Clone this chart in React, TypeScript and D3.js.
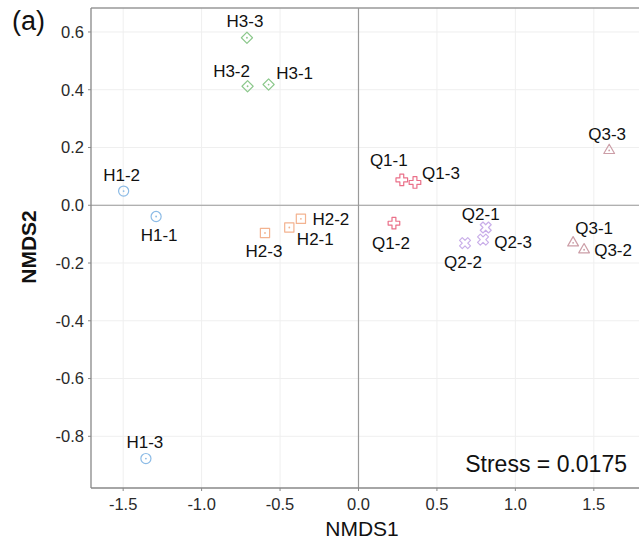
import * as d3 from 'd3';
import React from 'react';

// NMDS scores
const groups = ['H1', 'H2', 'H3', 'Q1', 'Q2', 'Q3'];
const sampleNames = [
  'H1-1', 'H1-2', 'H1-3',
  'H2-1', 'H2-2', 'H2-3',
  'H3-1', 'H3-2', 'H3-3',
  'Q1-1', 'Q1-2', 'Q1-3',
  'Q2-1', 'Q2-2', 'Q2-3',
  'Q3-1', 'Q3-2', 'Q3-3',
];
const nmds1 = [
  -1.290, -1.497, -1.355,
  -0.441, -0.367, -0.596,
  -0.573, -0.707, -0.711,
  0.276, 0.226, 0.360,
  0.811, 0.679, 0.794,
  1.368, 1.438, 1.598,
];
const nmds2 = [
  -0.039, 0.049, -0.877,
  -0.077, -0.047, -0.096,
  0.418, 0.412, 0.580,
  0.088, -0.062, 0.079,
  -0.077, -0.131, -0.119,
  -0.130, -0.154, 0.190,
];
const xTicks = [-1.5, -1.0, -0.5, 0.0, 0.5, 1.0, 1.5];
const yTicks = [-0.8, -0.6, -0.4, -0.2, 0.0, 0.2, 0.4, 0.6];
const stressValue = '0.0175';

// label nudges (px) to mimic the repelled labels
const labelNudge: Record<string, [number, number]> = {
  'H1-1': [3, 18], 'H1-2': [-2, -16], 'H1-3': [-1, -17],
  'H2-1': [26, 11], 'H2-2': [30, 0], 'H2-3': [-1, 18],
  'H3-1': [26, -12], 'H3-2': [-16, -15], 'H3-3': [-2, -17],
  'Q1-1': [-13, -20], 'Q1-2': [-3, 20], 'Q1-3': [26, -10],
  'Q2-1': [-5, -14], 'Q2-2': [-2, 19], 'Q2-3': [30, 2],
  'Q3-1': [21, -15], 'Q3-2': [29, 0], 'Q3-3': [-2, -17],
};

const colors: Record<string, string> = {
  H1: '#8cbbe6',
  H2: '#f3b390',
  H3: '#8cc88c',
  Q1: '#ea7089',
  Q2: '#c9aee9',
  Q3: '#cc9ea7',
};

const W = 639;
const H = 544;
const l = 91;
const t = 8;
const b = 488;
const font = '"Liberation Sans", Arial, sans-serif';

const symbolFor = (g: string) => {
  switch (g) {
    case 'H1': return { path: d3.symbol(d3.symbolCircle, 80)()!, rot: 0, dot: true };
    case 'H2': return { path: d3.symbol(d3.symbolSquare, 85)()!, rot: 0, dot: true };
    case 'H3': return { path: d3.symbol(d3.symbolSquare, 62)()!, rot: 45, dot: true };
    case 'Q1': return { path: d3.symbol(d3.symbolCross, 75)()!, rot: 0, dot: false };
    case 'Q2': return { path: d3.symbol(d3.symbolCross, 75)()!, rot: 45, dot: false };
    default: return { path: d3.symbol(d3.symbolTriangle, 50)()!, rot: 0, dot: true };
  }
};

const App: React.FC = () => {
  const x = d3.scaleLinear().domain([-1.705, 1.788]).range([l, W]);
  const y = d3.scaleLinear().domain([-0.979, 0.683]).range([b, t]);

  const points = sampleNames.map((name, i) => ({
    name,
    group: groups.find(g => name.startsWith(g))!,
    x: nmds1[i],
    y: nmds2[i],
  }));

  return (
    <svg width={W} height={H} style={{ position: 'absolute', left: 0, top: 0 }} fontFamily={font}>
      <rect width={W} height={H} fill="#fff" />
      {/* grid */}
      {xTicks.map(v => (
        <line key={'gx' + v} x1={x(v)} x2={x(v)} y1={t} y2={b} stroke="#efefef" strokeWidth={1} />
      ))}
      {yTicks.map(v => (
        <line key={'gy' + v} x1={l} x2={W} y1={y(v)} y2={y(v)} stroke="#efefef" strokeWidth={1} />
      ))}
      {/* zero lines */}
      <line x1={x(0)} x2={x(0)} y1={t} y2={b} stroke="#9a9a9a" strokeWidth={1.2} />
      <line x1={l} x2={W} y1={y(0)} y2={y(0)} stroke="#9a9a9a" strokeWidth={1.2} />
      {/* panel border */}
      <line x1={l} x2={W} y1={t} y2={t} stroke="#999" strokeWidth={1.6} />
      <line x1={l} x2={l} y1={t} y2={b} stroke="#888" strokeWidth={1.3} />
      <line x1={l} x2={W} y1={b} y2={b} stroke="#888" strokeWidth={1.3} />
      {/* ticks */}
      {xTicks.map(v => (
        <g key={'tx' + v}>
          <line x1={x(v)} x2={x(v)} y1={b} y2={b + 3} stroke="#888" />
          <text x={x(v)} y={510} textAnchor="middle" fontSize={16.5} fill="#2a2a2a">{v.toFixed(1)}</text>
        </g>
      ))}
      {yTicks.map(v => (
        <g key={'ty' + v}>
          <line x1={l - 3} x2={l} y1={y(v)} y2={y(v)} stroke="#888" />
          <text x={84} y={y(v)} dy="0.36em" textAnchor="end" fontSize={16.5} fill="#2a2a2a">{v.toFixed(1)}</text>
        </g>
      ))}
      {/* axis titles */}
      <text x={362} y={536} textAnchor="middle" fontSize={21} fill="#111">NMDS1</text>
      <text transform={`translate(36, 247) rotate(-90)`} textAnchor="middle" fontSize={21} fontWeight="bold" fill="#111">NMDS2</text>
      <text x={12} y={30} fontSize={27} fill="#111">(a)</text>
      {/* points */}
      {points.map(p => {
        const s = symbolFor(p.group);
        const c = colors[p.group];
        return (
          <g key={p.name} transform={`translate(${x(p.x)}, ${y(p.y)})`}>
            <path d={s.path} transform={`rotate(${s.rot})`} fill="none" stroke={c} strokeWidth={1.2} strokeLinejoin="round" />
            {s.dot && <circle r={0.9} fill={c} />}
          </g>
        );
      })}
      {/* labels */}
      {points.map(p => {
        const [dx, dy] = labelNudge[p.name];
        return (
          <text key={'l' + p.name} x={x(p.x) + dx} y={y(p.y) + dy} dy="0.36em" textAnchor="middle" fontSize={17} fill="#111">
            {p.name}
          </text>
        );
      })}
      <text x={627} y={472} textAnchor="end" fontSize={23} fill="#111">Stress = {stressValue}</text>
    </svg>
  );
};

export default App;
